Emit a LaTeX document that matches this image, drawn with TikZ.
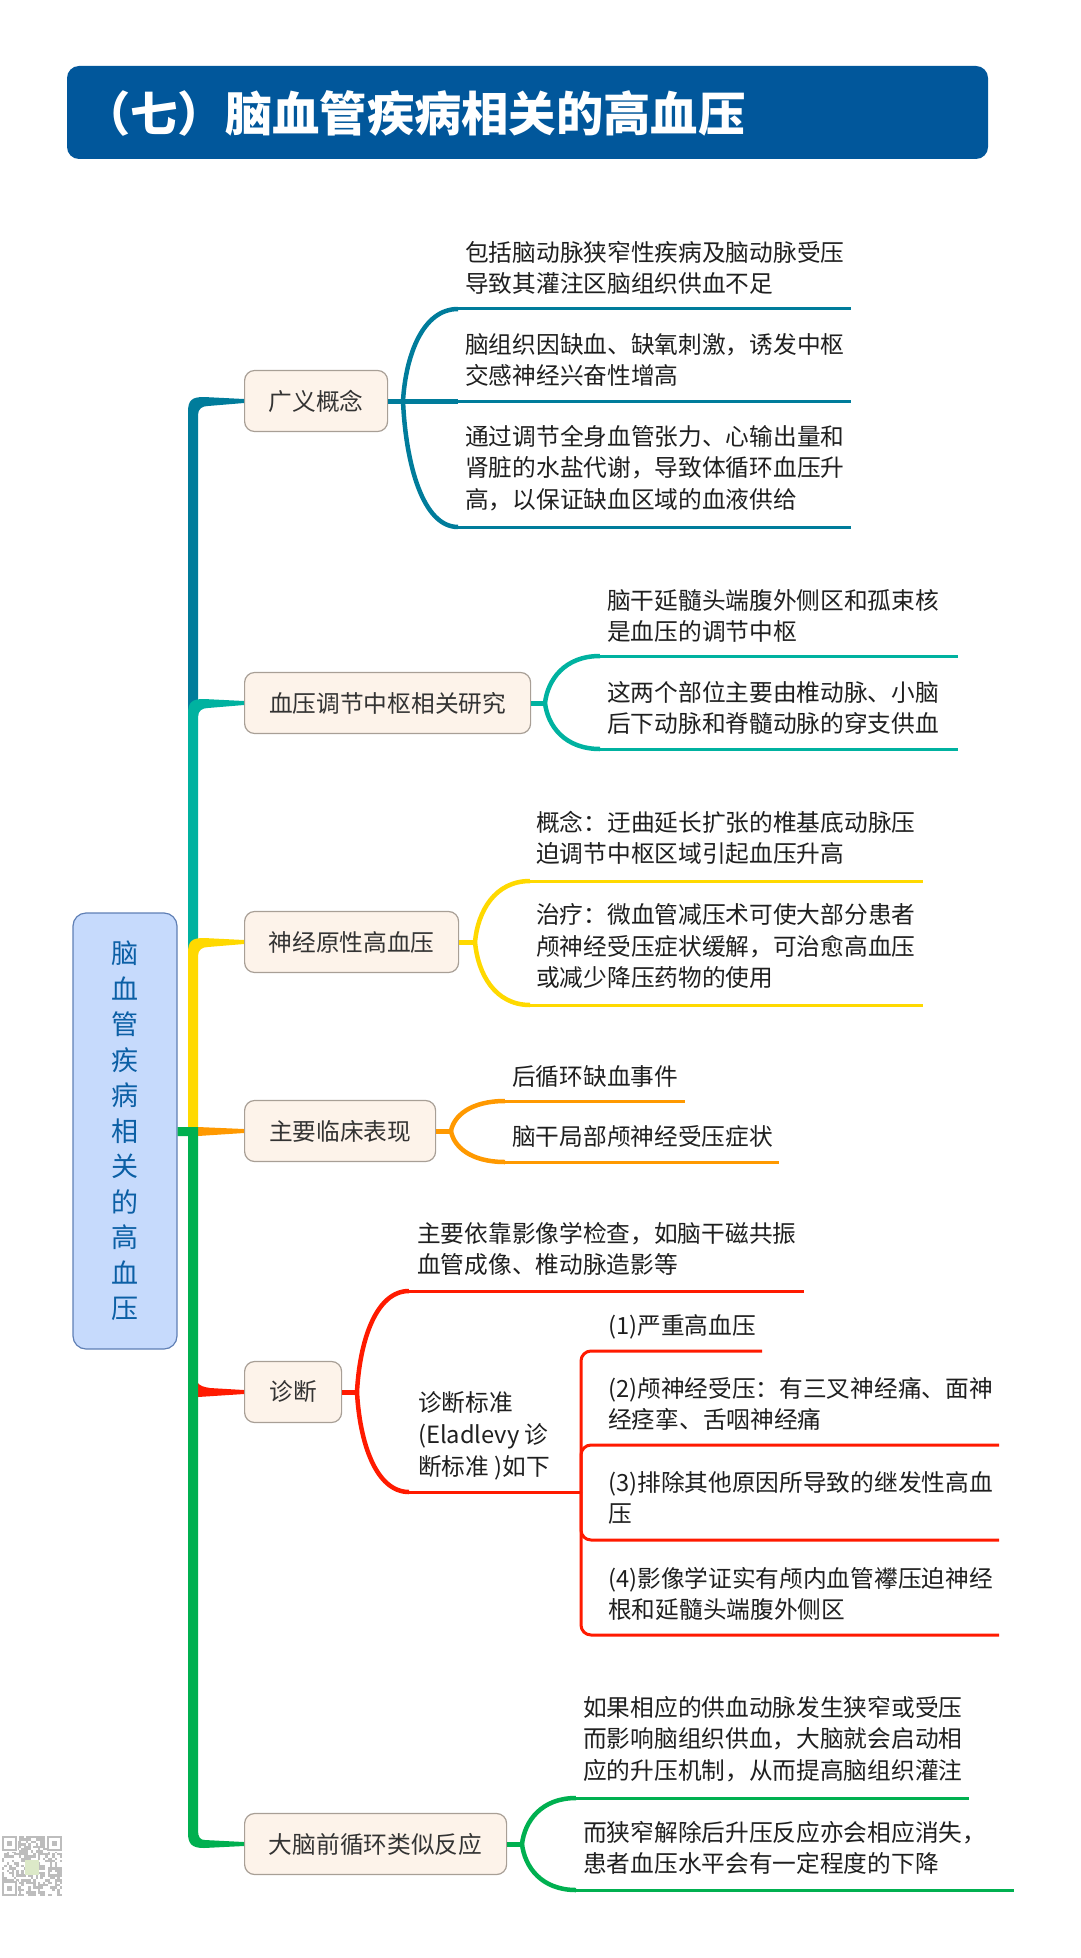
\documentclass[tikz,border=0pt]{standalone}
\usepackage{fontspec}
\setmainfont{Noto Sans CJK SC}
\usetikzlibrary{calc}
\definecolor{titleblue}{HTML}{01579B}
\definecolor{rootfill}{HTML}{C6DAFC}
\definecolor{rootline}{HTML}{5F7FB5}
\definecolor{roottext}{HTML}{0B5FA5}
\definecolor{topicfill}{HTML}{FDF3EA}
\definecolor{topicline}{HTML}{A89F96}
\definecolor{armblue}{HTML}{007C9B}
\definecolor{armteal}{HTML}{00B2A0}
\definecolor{armyellow}{HTML}{FFD900}
\definecolor{armorange}{HTML}{FF9900}
\definecolor{armred}{HTML}{FF1A00}
\definecolor{armgreen}{HTML}{00B050}
\definecolor{qrgrey}{HTML}{BDBDBD}
\definecolor{qrcore}{HTML}{DCE9C8}
\tikzset{
    topic/.style={draw=topicline,fill=topicfill,line width=1.2pt,rounded corners=10pt,minimum height=61pt,
        inner sep=0pt,anchor=west,text=black!80,font=\fontsize{23.7}{28}\selectfont},
    leaf/.style={inner sep=0pt,anchor=west,align=left,text=black!88,font=\fontsize{23.7}{31.7}\selectfont},
    limb/.style={line width=3pt},
    limbcurve/.style={line width=4.5pt},
    stub/.style={line width=5pt}
}
%% fork from a coordinate, out to the target and on to the line end
\newcommand{\forkto}[4]{
    \draw[limbcurve,#1] let \p1=($(#3)-(#2)$) in (#2) .. controls ++(0.05*\x1,0.5*\y1) and ($(#3)+(-0.64*\x1,0)$) .. (#3);
    \draw[limb,#1] (#3) -- (#4);
}
\begin{document}
\begin{tikzpicture}[x=1pt,y=-1pt]
    \useasboundingbox (0,0) rectangle (1080,1958);
    %% title
    \fill[titleblue,rounded corners=12pt] (67,66) rectangle (988,159);
    \node[inner sep=0pt,anchor=west,text=white,font=\fontsize{47.3}{54}\selectfont\bfseries] (title) at (83,114) {（七）脑血管疾病相关的高血压};
    %% topics
    \node[draw=rootline,fill=rootfill,line width=1.2pt,rounded corners=13pt,minimum width=104pt,minimum height=436pt,inner sep=0pt,
        align=center,text=roottext,font=\fontsize{27}{35.5}\selectfont] (root) at (125,1131)
        {脑\\血\\管\\疾\\病\\相\\关\\的\\高\\血\\压};
    \node[topic,minimum width=143pt] (gyjn) at (244,401) {广义概念};
    \node[topic,minimum width=286pt] (tjzs) at (244,703) {血压调节中枢相关研究};
    \node[topic,minimum width=214pt] (sjyx) at (244,942) {神经原性高血压};
    \node[topic,minimum width=191pt] (lcbx) at (244,1131) {主要临床表现};
    \node[topic,minimum width=97pt] (zd) at (244,1392) {诊断};
    \node[topic,minimum width=262pt] (lshy) at (244,1844) {大脑前循环类似反应};
    %% trunk
    \foreach \col/\n/\yn/\ylow in {armblue/gyjn/401/716,armteal/tjzs/703/952,armyellow/sjyx/942/1127}
        \fill[\col] (188,\ylow) -- (188,\yn+11) .. controls (188,\yn-1) and (192,\yn-4) .. (204,\yn-4)
            -- ($(\n.west)+(0,-2)$) -- ($(\n.west)+(0,2)$) -- (208,\yn+5)
            .. controls (202,\yn+5) and (198,\yn+8) .. (198,\yn+14) -- (198,\ylow) -- cycle;
    \fill[armred] (198,1383) .. controls (200,1386) and (204,1387) .. (210,1388) -- ($(zd.west)+(0,-2)$) -- ($(zd.west)+(0,2)$) -- (198,1397) -- cycle;
    \fill[armorange] (198,1127) -- ($(lcbx.west)+(0,-2)$) -- ($(lcbx.west)+(0,2)$) -- (198,1136) -- cycle;
    \fill[armgreen] (root.east |- 0,1127) -- (188,1127) -- (198,1127) -- (198,1830)
        .. controls (198,1837) and (200,1840) .. (205,1840) -- ($(lshy.west)+(0,-2)$) -- ($(lshy.west)+(0,2)$)
        -- (204,1848) .. controls (192,1848) and (188,1844) .. (188,1833) -- (188,1136) -- (root.east |- 0,1136) -- cycle;
    %% arms
    \coordinate (gyjnf) at (403,401);
    \coordinate (tjzsf) at (545,703);
    \coordinate (sjyxf) at (475,942);
    \coordinate (lcbxf) at (451,1131);
    \coordinate (zdf) at (357,1392);
    \coordinate (lshyf) at (522,1844);
    \foreach \n/\col in {gyjn/armblue,tjzs/armteal,sjyx/armyellow,lcbx/armorange,zd/armred,lshy/armgreen}
        \draw[stub,\col] (\n.east) -- (\n f);
    \draw[stub,armblue] (gyjnf) -- (458,401);
    \draw[limb,armblue] (458,401) -- (851,401);
    \forkto{armblue}{gyjnf}{458,309}{851,309}
    \forkto{armblue}{gyjnf}{458,527}{851,527}
    \forkto{armteal}{tjzsf}{600,656}{958,656}
    \forkto{armteal}{tjzsf}{600,749}{958,749}
    \forkto{armyellow}{sjyxf}{530,881}{923,881}
    \forkto{armyellow}{sjyxf}{530,1005}{923,1005}
    \forkto{armorange}{lcbxf}{505,1101}{685,1101}
    \forkto{armorange}{lcbxf}{505,1162}{779,1162}
    \forkto{armred}{zdf}{409,1291}{804,1291}
    \forkto{armred}{zdf}{409,1492}{581,1492}
    \forkto{armgreen}{lshyf}{576,1798}{969,1798}
    \forkto{armgreen}{lshyf}{576,1890}{1014,1890}
    %% criteria comb
    \foreach \y/\e in {1351/762,1445/999,1540/999,1635/999}
        \draw[limb,armred,rounded corners=10pt] (581,1492) |- (\e,\y);
    %% leaves
    \node[leaf] (gyjna) at (465,268) {包括脑动脉狭窄性疾病及脑动脉受压\\导致其灌注区脑组织供血不足};
    \node[leaf] (gyjnb) at (465,360) {脑组织因缺血、缺氧刺激，诱发中枢\\交感神经兴奋性增高};
    \node[leaf] (gyjnc) at (465,468) {通过调节全身血管张力、心输出量和\\肾脏的水盐代谢，导致体循环血压升\\高，以保证缺血区域的血液供给};
    \node[leaf] (tjzsa) at (607,616) {脑干延髓头端腹外侧区和孤束核\\是血压的调节中枢};
    \node[leaf] (tjzsb) at (607,708) {这两个部位主要由椎动脉、小脑\\后下动脉和脊髓动脉的穿支供血};
    \node[leaf] (sjyxa) at (536,838) {概念：迂曲延长扩张的椎基底动脉压\\迫调节中枢区域引起血压升高};
    \node[leaf] (sjyxb) at (536,946) {治疗：微血管减压术可使大部分患者\\颅神经受压症状缓解，可治愈高血压\\或减少降压药物的使用};
    \node[leaf] (lcbxa) at (512,1077) {后循环缺血事件};
    \node[leaf] (lcbxb) at (512,1136) {脑干局部颅神经受压症状};
    \node[leaf] (zda) at (417,1249) {主要依靠影像学检查，如脑干磁共振\\血管成像、椎动脉造影等};
    \node[leaf] (zdb) at (418,1436) {诊断标准\\(Eladlevy 诊\\断标准 )如下};
    \node[leaf] (zdc) at (608,1327) {(1)严重高血压};
    \node[leaf] (zdd) at (608,1404) {(2)颅神经受压：有三叉神经痛、面神\\经痉挛、舌咽神经痛};
    \node[leaf] (zde) at (608,1498) {(3)排除其他原因所导致的继发性高血\\压};
    \node[leaf] (zdg) at (608,1594) {(4)影像学证实有颅内血管襻压迫神经\\根和延髓头端腹外侧区};
    \node[leaf] (lshya) at (583,1739) {如果相应的供血动脉发生狭窄或受压\\而影响脑组织供血，大脑就会启动相\\应的升压机制，从而提高脑组织灌注};
    \node[leaf] (lshyb) at (583,1848) {而狭窄解除后升压反应亦会相应消失，\\患者血压水平会有一定程度的下降};
    %% code square
    \pgfmathsetseed{11}
    \foreach \i in {0,...,24}
        \foreach \j in {0,...,24} {
            \pgfmathparse{rnd}
            \ifdim\pgfmathresult pt>0.45pt
                \fill[qrgrey] (2+2.4*\i,1836+2.4*\j) rectangle ++(2.4,2.4);
            \fi
        }
    \fill[qrcore] (25,1860) rectangle (39,1875);
    \foreach \x/\y in {2/1836,47/1836,2/1881} {
        \fill[white] (\x,\y) rectangle ++(16,16);
        \draw[qrgrey,line width=2.2pt] (\x+1,\y+1) rectangle ++(13,13);
        \fill[qrgrey] (\x+5,\y+5) rectangle ++(5,5);
    }
\end{tikzpicture}
\end{document}
